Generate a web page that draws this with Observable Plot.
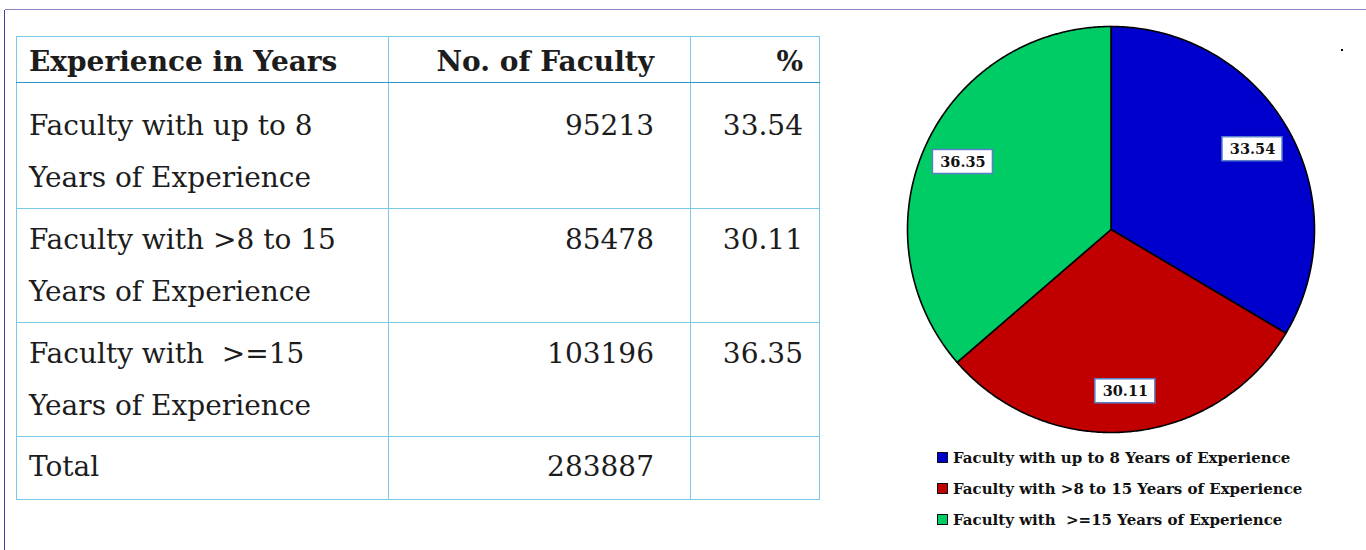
<!DOCTYPE html>
<html>
<head>
<meta charset="utf-8">
<script src="https://cdn.jsdelivr.net/npm/d3@7"></script>
<script src="https://cdn.jsdelivr.net/npm/@observablehq/plot@0.6"></script>
<style>
  html, body { margin: 0; padding: 0; background: #fff; }
  body { width: 1366px; height: 550px; position: relative; overflow: hidden; font-family: "DejaVu Serif", serif; color: #1c1c1c; }
  .frameTop { position: absolute; left: 5px; top: 9px; width: 1361px; height: 0; border-top: 1.5px solid #8a86c6; }
  .frameLeft { position: absolute; left: 4px; top: 10px; width: 0; height: 540px; border-left: 1.5px solid #4a3aa6; }
  table { position: absolute; left: 16px; top: 36px; width: 803px; border-collapse: collapse; table-layout: fixed; border: 1.5px solid #7cc6e6; }
  td { border: 1.5px solid #7cc6e6; vertical-align: top; padding: 0 12px; font-size: 28px; line-height: 52px; white-space: pre; box-sizing: border-box; }
  tr.head td { font-weight: bold; border-bottom: 1.5px solid #2f96c8; line-height: 40px; padding-top: 5px; vertical-align: top; }
  td.num { text-align: right; padding-right: 36px; }
  td.pct { text-align: right; padding-right: 16px; }
  #pie { position: absolute; left: 890px; top: 9px; }
  .legend { position: absolute; left: 937px; top: 447px; font-weight: bold; font-size: 15px; color: #111; }
  .legend div { position: relative; height: 31px; line-height: 22px; padding-left: 16px; white-space: pre; }
  .legend span.sw { position: absolute; left: 0; top: 5px; width: 9px; height: 9px; border: 1.5px solid #111; }
  .dot { position: absolute; left: 1341px; top: 49px; width: 2px; height: 2px; background: #000; }
</style>
</head>
<body>
<div class="frameTop"></div>
<div class="frameLeft"></div>
<div class="dot"></div>
<table id="tbl"></table>
<div id="pie"></div>
<div class="legend" id="legend"></div>
<script>
// ---- data ----
const headers = ["Experience in Years", "No. of Faculty", "%"];
const rowLabels = [
  ["Faculty with up to 8", "Years of Experience"],
  ["Faculty with >8 to 15", "Years of Experience"],
  ["Faculty with  >=15", "Years of Experience"]
];
const categories = [
  "Faculty with up to 8 Years of Experience",
  "Faculty with >8 to 15 Years of Experience",
  "Faculty with  >=15 Years of Experience"
];
const facultyCounts = [95213, 85478, 103196];
const percents = [33.54, 30.11, 36.35];
const totalLabel = "Total";
const totalCount = 283887;
const colors = ["#0000cc", "#c00000", "#00cc66"];

// ---- table ----
const tbl = document.getElementById("tbl");
tbl.innerHTML =
  `<colgroup><col style="width:372px"><col style="width:302px"><col style="width:129px"></colgroup>` +
  `<tr class="head" style="height:45px"><td>${headers[0]}</td><td class="num">${headers[1]}</td><td class="pct">${headers[2]}</td></tr>` +
  rowLabels.map((lines, i) => {
    const pt = i === 0 ? 17 : 5;
    const h = i === 0 ? 126 : 114;
    return `<tr style="height:${h}px"><td style="padding-top:${pt}px">${lines.map(l => l.replace(/>/g, "&gt;")).join("\n")}</td>` +
      `<td class="num" style="padding-top:${pt}px">${facultyCounts[i]}</td>` +
      `<td class="pct" style="padding-top:${pt}px">${percents[i].toFixed(2)}</td></tr>`;
  }).join("") +
  `<tr style="height:63px"><td style="padding-top:4px">${totalLabel}</td><td class="num" style="padding-top:4px">${totalCount}</td><td class="pct"></td></tr>`;

// ---- pie geometry from data ----
const arcs = d3.pie().sort(null).value(d => d)(percents);
const poly = [];
arcs.forEach((a, i) => {
  poly.push({cat: categories[i], x: 0, y: 0});
  const n = Math.max(2, Math.ceil((a.endAngle - a.startAngle) / (Math.PI / 360)));
  for (let k = 0; k <= n; k++) {
    const t = a.startAngle + (a.endAngle - a.startAngle) * k / n;
    poly.push({cat: categories[i], x: Math.sin(t), y: Math.cos(t)});
  }
});
const labelR = 0.8;
const labels = arcs.map((a, i) => {
  const m = (a.startAngle + a.endAngle) / 2;
  return {cat: categories[i], x: labelR * Math.sin(m), y: labelR * Math.cos(m), text: percents[i].toFixed(2)};
});

const chart = Plot.plot({
  width: 440,
  height: 440,
  margin: 0,
  style: {background: "transparent", overflow: "visible"},
  x: {domain: [-1, 1], range: [17, 424], axis: null},
  y: {domain: [-1, 1], range: [423, 17], axis: null},
  color: {domain: categories, range: colors},
  marks: [
    Plot.line(poly, {x: "x", y: "y", z: "cat", fill: "cat", stroke: "#000", strokeWidth: 1.6, curve: "linear-closed", strokeLinejoin: "round"}),
    Plot.rect(labels, {x1: "x", x2: "x", y1: "y", y2: "y", insetLeft: -30, insetRight: -30, insetTop: -12, insetBottom: -12, fill: "#fff", stroke: "#5a7fc8", strokeWidth: 1.5}),
    Plot.text(labels, {x: "x", y: "y", text: "text", fontWeight: "bold", fontSize: 14.5, fontFamily: "DejaVu Serif", fill: "#111"})
  ]
});
document.getElementById("pie").appendChild(chart);

// ---- legend ----
document.getElementById("legend").innerHTML = categories.map((c, i) =>
  `<div><span class="sw" style="background:${colors[i]}"></span>${c.replace(/>/g, "&gt;")}</div>`).join("");
</script>
</body>
</html>
